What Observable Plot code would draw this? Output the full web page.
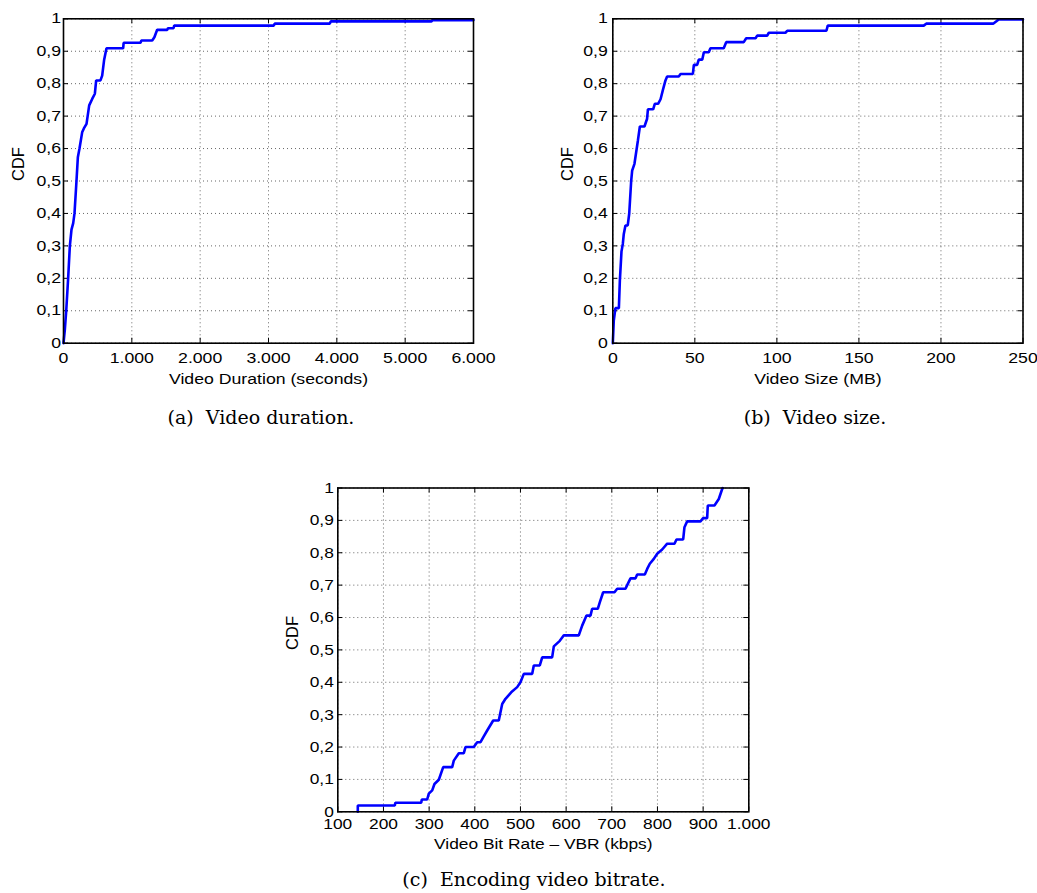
<!DOCTYPE html>
<html>
<head>
<meta charset="utf-8">
<script src="https://cdn.jsdelivr.net/npm/d3@7"></script>
<script src="https://cdn.jsdelivr.net/npm/@observablehq/plot@0.6"></script>
<style>
  body { margin: 0; background: #fff; }
  #fig { position: relative; width: 1037px; height: 893px; background: #fff; overflow: hidden; }
  .panel { position: absolute; }
  .caption {
    position: absolute; font-family: "DejaVu Serif", "Liberation Serif", serif; font-size: 19px;
    line-height: 1; white-space: pre; transform: translate(-50%, -50%); color: #000;
  }
</style>
</head>
<body>
<div id="fig"></div>
<script>
// ---- Video duration (seconds) vs. cumulative fraction ----
const durationSec = [0, 19, 40, 68, 93, 117, 142, 161, 190, 210, 234, 273, 298, 337, 376, 420, 459, 478, 541, 566,
  595, 629, 873, 880, 1127, 1140, 1298, 1330, 1371, 1517, 1530, 1610, 1620, 3078, 3090, 3898, 3910, 5385, 5400, 6000];
const durationCdf = [0, 0.04, 0.1, 0.2, 0.3, 0.35, 0.37, 0.4, 0.5, 0.573, 0.6, 0.65, 0.662, 0.676, 0.733, 0.753, 0.769, 0.81, 0.81, 0.825,
  0.874, 0.909, 0.909, 0.926, 0.926, 0.933, 0.933, 0.943, 0.966, 0.966, 0.971, 0.971, 0.979, 0.979, 0.985, 0.985, 0.992, 0.992, 0.996, 0.996];

// ---- Video size (MB) vs. cumulative fraction ----
const sizeMb = [0, 0.6, 1.6, 3.7, 4.3, 5.3, 6.1, 6.7, 7.7, 9.1, 10.0, 11.2, 11.8, 13.2, 15.3, 16.5, 19.3, 20.9, 21.4, 24.6,
  25.6, 27.6, 29.1, 30.7, 32.1, 33.1, 40.2, 41.3, 48.8, 49.4, 51.4, 52.4, 54.5, 55.5, 58.5, 59.5, 67.6, 69.1, 79.8, 81.3,
  87.0, 88.0, 94.1, 95.1, 105.2, 106.3, 130.2, 131, 189.5, 191, 231.8, 235.2, 250];
const sizeCdf = [0, 0.07, 0.108, 0.108, 0.193, 0.283, 0.306, 0.337, 0.363, 0.363, 0.399, 0.5, 0.532, 0.553, 0.625, 0.668, 0.668, 0.692, 0.721, 0.721,
  0.738, 0.738, 0.752, 0.784, 0.81, 0.822, 0.822, 0.83, 0.83, 0.858, 0.858, 0.874, 0.874, 0.897, 0.897, 0.909, 0.909, 0.928, 0.928, 0.94,
  0.94, 0.948, 0.948, 0.957, 0.957, 0.963, 0.963, 0.979, 0.979, 0.985, 0.985, 0.998, 0.998];

// ---- Encoding bitrate (kbps) vs. cumulative fraction ----
const bitrateKbps = [143.8, 143.8, 224.8, 226, 282.6, 284, 295.7, 299.3, 306.7, 311.7, 321.2, 330.8, 350.5, 354, 365, 375.9, 379.6, 397.8, 405.2, 412.5,
  418.4, 427.1, 440.3, 452.5, 460, 467.2, 479.7, 492.8, 500, 507.3, 525.7, 529.2, 542.3, 547.6, 569.4, 573, 586.1, 595, 627.7, 635.1,
  644.6, 653.3, 657, 669.3, 673.7, 681.1, 705.9, 711.8, 730, 735, 740.9, 751.9, 755.6, 772.3, 777.5, 783.2, 792, 799.4, 810.3, 821.3,
  837.3, 841.6, 856.3, 859.1, 865, 894.2, 900, 908.8, 910.2, 924.8, 934.3, 941.7, 943];
const bitrateCdf = [0, 0.0195, 0.0195, 0.028, 0.028, 0.038, 0.038, 0.056, 0.066, 0.086, 0.099, 0.138, 0.138, 0.158, 0.181, 0.181, 0.2, 0.2, 0.215, 0.215,
  0.23, 0.251, 0.282, 0.282, 0.333, 0.349, 0.369, 0.385, 0.4, 0.426, 0.426, 0.452, 0.452, 0.477, 0.477, 0.511, 0.528, 0.545, 0.545, 0.575,
  0.606, 0.606, 0.627, 0.627, 0.647, 0.678, 0.678, 0.689, 0.689, 0.704, 0.721, 0.721, 0.733, 0.733, 0.75, 0.766, 0.781, 0.797, 0.81, 0.828,
  0.828, 0.841, 0.841, 0.879, 0.897, 0.897, 0.907, 0.907, 0.946, 0.946, 0.966, 0.997, 1];

// ---- Axis ticks and labels ----
const cdfTicks = [0, 0.1, 0.2, 0.3, 0.4, 0.5, 0.6, 0.7, 0.8, 0.9, 1];
const durationTicks = [0, 1000, 2000, 3000, 4000, 5000, 6000];
const sizeTicks = [0, 50, 100, 150, 200, 250];
const bitrateTicks = [100, 200, 300, 400, 500, 600, 700, 800, 900, 1000];
const yLabel = "CDF";
const xLabels = ["Video Duration (seconds)", "Video Size (MB)", "Video Bit Rate \u2013 VBR (kbps)"];
const captions = ["(a)  Video duration.", "(b)  Video size.", "(c)  Encoding video bitrate."];

// Portuguese-style number formatting: "0,5" and "1.000"
const ptLocale = d3.formatLocale({decimal: ",", thousands: ".", grouping: [3], currency: ["", ""]});
const fmt = ptLocale.format(",");

const fig = document.getElementById("fig");
const FONT = '"Liberation Sans", Arial, Helvetica, sans-serif';

// Horizontally widen every upright text of a panel (the lettering is set wide);
// each text is scaled about its own anchor point.
function widen(svg, sx) {
  svg.querySelectorAll("text").forEach(t => {
    const tr = t.getAttribute("transform") || "";
    if (tr.includes("rotate")) return;
    const x = parseFloat(t.getAttribute("x"));
    let extra = "";
    if (Number.isFinite(x) && x !== 0 && !String(t.getAttribute("x")).includes("em")) {
      extra = ` translate(${x},0)`;
      t.removeAttribute("x");
    }
    t.setAttribute("transform", `${tr}${extra} scale(${sx},1)`.trim());
  });
}

function cdfPanel(o) {
  const rows = o.xs.map((v, i) => ({x: v, y: o.ys[i]}));
  const innerW = o.width - o.ml - o.mr;
  const innerH = o.height - o.mt - o.mb;
  const tick = 5;
  const grid = {stroke: "#000", strokeOpacity: 0.6, strokeDasharray: "1,3", strokeWidth: 1};
  const svg = Plot.plot({
    width: o.width, height: o.height,
    marginLeft: o.ml, marginRight: o.mr, marginTop: o.mt, marginBottom: o.mb,
    style: {fontFamily: FONT, fontSize: o.fontSize + "px", background: "transparent", overflow: "visible", color: "#000"},
    x: {domain: o.xDomain, nice: false},
    y: {domain: [0, 1], nice: false},
    marks: [
      Plot.gridX(o.xTicks, grid),
      Plot.gridY(cdfTicks, grid),
      // inward ticks on all four sides
      Plot.tickX(o.xTicks, {stroke: "#000", insetTop: innerH - tick}),
      Plot.tickX(o.xTicks, {stroke: "#000", insetBottom: innerH - tick}),
      Plot.tickY(cdfTicks, {stroke: "#000", insetRight: innerW - tick}),
      Plot.tickY(cdfTicks, {stroke: "#000", insetLeft: innerW - tick}),
      Plot.line(rows, {x: "x", y: "y", stroke: "#0000ff", strokeWidth: 2.6, strokeLinejoin: "miter"}),
      Plot.frame({stroke: "#000", strokeWidth: 1.6}),
      Plot.axisX(o.xTicks, {tickSize: 0, tickPadding: o.xPad, tickFormat: fmt, label: null, fontSize: o.fontSize}),
      Plot.axisY(cdfTicks, {tickSize: 0, tickPadding: o.yPad, tickFormat: fmt, label: null, fontSize: o.fontSize}),
      Plot.text([o.xLabel], {frameAnchor: "bottom", dy: o.labelDy, lineAnchor: "middle", fontSize: o.fontSize}),
      Plot.text([yLabel], {frameAnchor: "left", rotate: -90, dx: o.cdfDx, lineAnchor: "middle", fontSize: 16.5})
    ]
  });
  widen(svg, o.stretch);
  svg.classList.add("panel");
  svg.style.left = o.left + "px";
  svg.style.top = o.top + "px";
  fig.appendChild(svg);
}

cdfPanel({xs: durationSec, ys: durationCdf, xDomain: [0, 6000], xTicks: durationTicks, xLabel: xLabels[0],
  left: 0, top: 0, width: 500, height: 400, ml: 63, mr: 27, mt: 18.3, mb: 57.3,
  fontSize: 14.5, stretch: 1.22, yPad: 2.5, xPad: 9.5, labelDy: 36, cdfDx: -44.7});

cdfPanel({xs: sizeMb, ys: sizeCdf, xDomain: [0, 250], xTicks: sizeTicks, xLabel: xLabels[1],
  left: 530, top: 0, width: 507, height: 400, ml: 82.3, mr: 14.5, mt: 18.3, mb: 57.3,
  fontSize: 14.5, stretch: 1.22, yPad: 5, xPad: 9.5, labelDy: 36, cdfDx: -44.8});

cdfPanel({xs: bitrateKbps, ys: bitrateCdf, xDomain: [100, 1000], xTicks: bitrateTicks, xLabel: xLabels[2],
  left: 260, top: 450, width: 520, height: 420, ml: 77.3, mr: 31.7, mt: 37.5, mb: 58.7,
  fontSize: 15.5, stretch: 1.12, yPad: 4, xPad: 6.5, labelDy: 32, cdfDx: -45});

// Sub-figure captions
[[captions[0], 261, 417], [captions[1], 815, 417], [captions[2], 534, 879]].forEach(([txt, cx, cy]) => {
  const d = document.createElement("div");
  d.className = "caption";
  d.textContent = txt;
  d.style.left = cx + "px";
  d.style.top = cy + "px";
  fig.appendChild(d);
});
</script>
</body>
</html>
